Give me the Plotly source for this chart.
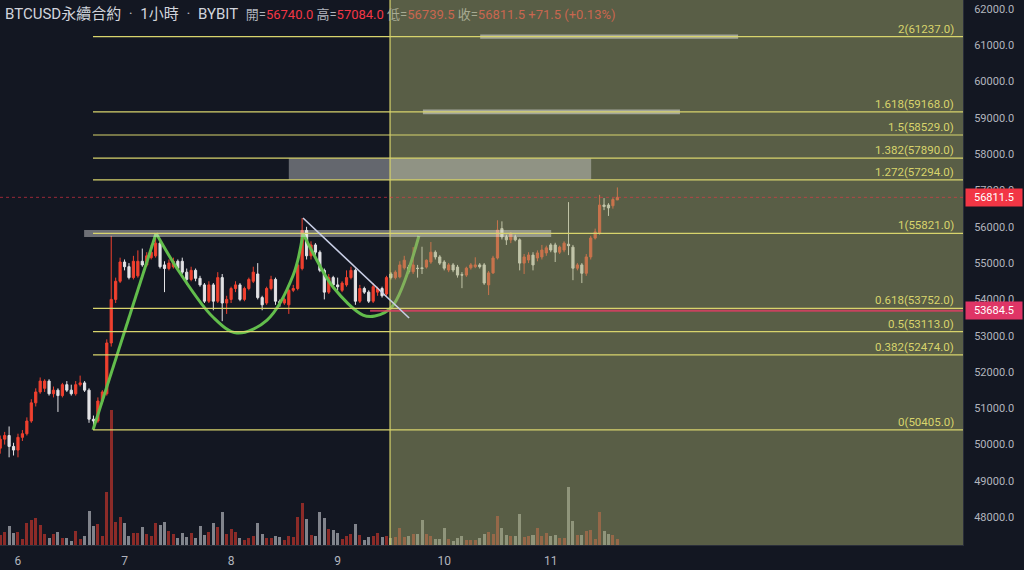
import pandas as pd
import plotly.graph_objects as go

# ---------------- data ----------------
start_time = "2021-10-05 20:00"   # first hourly candle

open_ = [49900, 50150, 50250, 49950, 49850, 50200, 50300, 50650, 51150, 51450,
         51550, 51750, 51400, 51500, 51350, 51650, 51500, 51400, 51650, 51700,
         51500, 50700, 50650, 51200, 51400, 52800, 54000, 54500, 55030, 54900,
         54600, 54650, 55050, 54950, 55150, 55200, 55550, 54950, 54850, 54900,
         55050, 55050, 54750, 54550, 54800, 54580, 54400, 53950, 54400, 53950,
         54600, 53900, 54000, 54300, 54400, 54000, 54300, 54500, 54700, 54050,
         53900, 54300, 54550, 53950, 53900, 53850, 54250, 54300, 54850, 55900,
         55200, 55500, 55300, 54800, 54200, 54600, 54400, 54250, 54400, 54600,
         54800, 53950, 54300, 54200, 53950, 54200, 54300, 54150, 54700, 54600,
         54620, 54870, 54890, 54760, 54860, 54870, 54890, 55030, 55300, 55170,
         55030, 54810, 54950, 54890, 54680, 54670, 54870, 54900, 54950, 54950,
         54400, 54730, 55140, 55950, 55720, 55640, 55720, 55640, 55000, 55085,
         55220, 55140, 55170, 55280, 55500, 55500, 55300, 55360, 55520, 55440,
         54860, 54950, 54720, 55170, 55690, 55830, 56600, 56600, 56580, 56740]
high_ = [50250, 50350, 50500, 50050, 50300, 50400, 50750, 51250, 51550, 51850,
         51800, 51800, 51600, 51550, 51700, 51750, 51650, 51750, 51900, 51750,
         51550, 50800, 51300, 51500, 52900, 55750, 54600, 55150, 55100, 55000,
         55200, 55350, 55400, 55300, 55500, 55821, 55600, 55050, 55100, 55150,
         55100, 55150, 54850, 54900, 54850, 54650, 54450, 54500, 54450, 54750,
         54700, 54100, 54350, 54500, 54450, 54350, 54600, 54900, 55000, 54100,
         54350, 54650, 54600, 54000, 54050, 54300, 54400, 55000, 56240, 56000,
         55600, 55550, 55350, 54850, 54700, 54650, 54600, 54500, 54800, 54900,
         54850, 54400, 54350, 54250, 54450, 54350, 54350, 54650, 54750, 54800,
         55050, 55200, 54950, 55440, 54950, 55450, 55100, 55580, 55350, 55220,
         55080, 55000, 55000, 54950, 54750, 54900, 55000, 55160, 55000, 55000,
         54780, 55200, 56180, 56150, 55780, 55850, 55780, 55680, 55250, 55300,
         55300, 55350, 55500, 55480, 55550, 55560, 55480, 55600, 56680, 55500,
         55000, 55000, 55250, 55750, 55950, 56880, 56790, 56650, 56800, 57084]
low_ = [49750, 50000, 49650, 49700, 49650, 50100, 50250, 50600, 51050, 51400,
        51450, 51350, 51300, 50900, 51300, 51450, 51350, 51350, 51600, 51450,
        50600, 50405, 50600, 51150, 51350, 52700, 53900, 54450, 54800, 54550,
        54550, 54600, 54900, 54900, 55100, 55150, 54850, 54200, 54800, 54850,
        54800, 54700, 54400, 54500, 54500, 54350, 53900, 53900, 53700, 53900,
        53400, 53600, 53900, 54200, 53950, 53950, 54250, 54450, 54000, 53700,
        53850, 54250, 53850, 53800, 53850, 53600, 54200, 54250, 54800, 55100,
        55100, 55200, 54750, 54000, 54150, 54350, 54250, 54200, 54350, 54550,
        53850, 53900, 54150, 53900, 53900, 54100, 54050, 54100, 54550, 54550,
        54580, 54820, 54700, 54700, 54600, 54700, 54850, 54980, 55100, 54950,
        54800, 54750, 54750, 54600, 54310, 54620, 54820, 54860, 54850, 54400,
        54120, 54700, 55100, 55650, 55500, 55550, 55600, 54800, 54700, 55000,
        54800, 55050, 55100, 55200, 55300, 55030, 55250, 55300, 55220, 54530,
        54800, 54450, 54650, 55100, 55650, 55780, 56460, 56300, 56500, 56739.5]
close_ = [50150, 50250, 49950, 49850, 50200, 50300, 50650, 51150, 51450, 51750,
          51750, 51400, 51500, 51350, 51650, 51500, 51400, 51650, 51700, 51500,
          50700, 50650, 51200, 51450, 52800, 54000, 54500, 55030, 54900, 54600,
          55050, 55050, 54950, 55200, 55300, 55550, 54900, 54850, 55000, 55050,
          54850, 54750, 54550, 54800, 54580, 54400, 53950, 54400, 53950, 54600,
          53900, 54000, 54300, 54400, 54000, 54300, 54550, 54750, 54050, 53850,
          54300, 54550, 53950, 53900, 54000, 54250, 54300, 54950, 55900, 55200,
          55500, 55300, 54800, 54200, 54600, 54400, 54350, 54450, 54600, 54800,
          53950, 54300, 54200, 53950, 54350, 54300, 54100, 54600, 54600, 54750,
          54950, 55080, 54760, 54950, 54850, 54850, 55080, 55300, 55170, 55000,
          54860, 54950, 54810, 54670, 54670, 54860, 54950, 54950, 54900, 54450,
          54730, 55140, 55910, 55720, 55640, 55820, 55640, 55000, 55170, 55222,
          54950, 55280, 55360, 55420, 55360, 55300, 55440, 55550, 55480, 54860,
          54950, 54720, 55170, 55690, 55860, 56600, 56560, 56520, 56750, 56811.5]
volume = [10, 13, 19, 12, 13, 6, 22, 25, 27, 20,
          11, 7, 11, 13, 7, 7, 4, 14, 6, 9,
          34, 19, 21, 9, 53, 135, 23, 28, 22, 9,
          12, 12, 18, 11, 9, 22, 20, 23, 14, 11,
          7, 12, 8, 12, 7, 19, 10, 13, 22, 18,
          33, 11, 16, 13, 7, 5, 7, 9, 22, 11,
          7, 7, 9, 8, 5, 9, 8, 28, 42, 26,
          10, 9, 33, 27, 16, 15, 12, 6, 9, 11,
          21, 10, 5, 8, 9, 12, 8, 9, 7, 8,
          17, 8, 9, 11, 11, 25, 11, 9, 6, 6,
          17, 6, 4, 7, 9, 5, 5, 5, 7, 11,
          13, 11, 29, 17, 10, 9, 9, 31, 8, 9,
          10, 17, 9, 12, 9, 10, 7, 7, 58, 24,
          10, 10, 14, 15, 6, 33, 14, 11, 10, 6]

fib_ratios = ["0", "0.382", "0.5", "0.618", "1", "1.272", "1.382", "1.5", "1.618", "2"]
fib_prices = [50405.0, 52474.0, 53113.0, 53752.0, 55821.0, 57294.0, 57890.0, 58529.0, 59168.0, 61237.0]

day_ticks = ["2021-10-06", "2021-10-07", "2021-10-08", "2021-10-09", "2021-10-10", "2021-10-11"]
day_labels = ["6", "7", "8", "9", "10", "11"]
price_ticks = [48000, 49000, 50000, 51000, 52000, 53000, 54000, 55000,
               56000, 57000, 58000, 59000, 60000, 61000, 62000]

# drawing-tool anchors: hours after start_time, price
fib_start_h = 20.9
range_start_h = 87.8
view_h = [-0.05, 216.85]
price_view = [47234, 62248]
rise_h = [20.9, 35.1]
rise_p = [50405, 55821]
cup1_h = [35.1, 40.5, 47.9, 53.3, 60.1, 66.0, 68.2]
cup1_p = [55821, 54727, 53515, 53074, 53432, 54672, 55821]
cup2_h = [68.2, 70.45, 74.96, 81.7, 84.4, 88.2, 94.3]
cup2_p = [55821, 55278, 54341, 53570, 53542, 53790, 55746]
trend_h = [68.2, 92.1]
trend_p = [56242, 53487]
zone_h0 = [108.1, 95.2, 65.0, 18.9]
zone_h1 = [166.2, 153.1, 133.1, 124.1]
zone_p0 = [61180, 59100, 57294, 55719]
zone_p1 = [61300, 59230, 57890, 55912]
zone_alpha = [0.5, 0.5, 0.38, 0.42]
support_price = 53684.5
support_start_h = 83.3
last_price = 56811.5

# ---------------- styling ----------------
BG = "#131722"
RED = "#f0402f"
WHITE = "#e3e3e6"
YEL = "#d8d46c"
GREEN = "#62bd4c"
AXIS_TXT = "#b2b5be"

t0 = pd.Timestamp(start_time)
def t(h):
    return t0 + pd.Timedelta(hours=h)

times = [t(i) for i in range(len(close_))]
up = [c >= o for o, c in zip(open_, close_)]
vol_colors = ["rgba(240,60,46,0.55)" if u else "rgba(220,222,228,0.55)" for u in up]

fig = go.Figure()
fig.add_trace(go.Bar(x=times, y=volume, marker_color=vol_colors, marker_line_width=0,
                     width=0.68 * 3600000, yaxis="y", hoverinfo="skip", showlegend=False))
fig.add_trace(go.Candlestick(x=times, open=open_, high=high_, low=low_, close=close_,
                             increasing=dict(line=dict(color=RED, width=1), fillcolor=RED),
                             decreasing=dict(line=dict(color=WHITE, width=1), fillcolor=WHITE),
                             whiskerwidth=0, yaxis="y2", hoverinfo="skip", showlegend=False))
fig.add_trace(go.Scatter(x=[t(h) for h in rise_h], y=rise_p, mode="lines", yaxis="y2",
                         line=dict(color=GREEN, width=3), hoverinfo="skip", showlegend=False))
for hs, ps in ((cup1_h, cup1_p), (cup2_h, cup2_p)):
    fig.add_trace(go.Scatter(x=[t(h) for h in hs], y=ps, mode="lines", yaxis="y2",
                             line=dict(color=GREEN, width=3, shape="spline", smoothing=1.0),
                             hoverinfo="skip", showlegend=False))

shapes = []
# shaded date range (drawn above the candles, semi-transparent)
shapes.append(dict(type="rect", xref="x", yref="paper", x0=t(range_start_h), x1=t(view_h[1] + 2),
                   y0=0, y1=1, fillcolor="rgba(160,165,105,0.5)", line=dict(width=0), layer="above"))
# zones
for h0, h1, p0, p1, a in zip(zone_h0, zone_h1, zone_p0, zone_p1, zone_alpha):
    shapes.append(dict(type="rect", xref="x", yref="y2", x0=t(h0), x1=t(h1), y0=p0, y1=p1,
                       fillcolor=f"rgba(235,235,235,{a})", line=dict(width=0), layer="above"))
# vertical line
shapes.append(dict(type="line", xref="x", yref="paper", x0=t(range_start_h), x1=t(range_start_h),
                   y0=0, y1=1, line=dict(color=YEL, width=1.2), layer="above"))
# fib levels
for p in fib_prices:
    shapes.append(dict(type="line", xref="x", yref="y2", x0=t(fib_start_h), x1=t(view_h[1] + 2),
                       y0=p, y1=p, line=dict(color=YEL, width=1.2), layer="above"))
# last price dotted
shapes.append(dict(type="line", xref="paper", yref="y2", x0=0, x1=1, y0=last_price, y1=last_price,
                   line=dict(color="rgba(242,54,69,0.6)", width=1, dash="dot"), layer="above"))
# support ray
shapes.append(dict(type="line", xref="x", yref="y2", x0=t(support_start_h), x1=t(view_h[1] + 2),
                   y0=support_price, y1=support_price,
                   line=dict(color="rgba(226,60,100,0.8)", width=2), layer="above"))
# trend line
shapes.append(dict(type="line", xref="x", yref="y2", x0=t(trend_h[0]), x1=t(trend_h[1]),
                   y0=trend_p[0], y1=trend_p[1], line=dict(color="#c9cfe6", width=1.6), layer="above"))

annotations = []
for r_, p in zip(fib_ratios, fib_prices):
    annotations.append(dict(xref="paper", yref="y2", x=1, y=p, xanchor="right", yanchor="bottom",
                            xshift=-7, yshift=-1, showarrow=False, text=f"{r_}({p:.1f})",
                            font=dict(color=YEL, size=11.5, family="Roboto, DejaVu Sans")))
annotations.append(dict(xref="paper", yref="y2", x=1, y=last_price, xanchor="left", yanchor="middle",
                        xshift=2, showarrow=False, text=f"{last_price:.1f}", bgcolor="#f23645",
                        borderpad=2, width=52, font=dict(color="white", size=11, family="Roboto")))
annotations.append(dict(xref="paper", yref="y2", x=1, y=support_price, xanchor="left", yanchor="middle",
                        xshift=2, showarrow=False, text=f"{support_price:.1f}", bgcolor="#df3566",
                        borderpad=2, width=52, font=dict(color="white", size=11, family="Roboto")))
r = "#f23645"
g = "#b2b5be"
rm = "#c8664f"
gm = "#a7aa92"
sep = "\u2002·\u2002"
title = (f'<span style="color:#d1d4dc">BTCUSD永續合約</span><span style="color:{g}">{sep}</span>'
         f'<span style="color:#d1d4dc">1小時</span><span style="color:{g}">{sep}</span>'
         f'<span style="color:#d1d4dc">BYBIT</span>\u2002'
         f'<span style="font-size:13px"><span style="color:{g}">開=</span><span style="color:{r}">56740.0</span> '
         f'<span style="color:{g}">高=</span><span style="color:{r}">57084.0</span> '
         f'<span style="color:{gm}">低=</span><span style="color:{rm}">56739.5</span> '
         f'<span style="color:{gm}">收=</span><span style="color:{rm}">56811.5 +71.5 (+0.13%)</span></span>')
annotations.append(dict(xref="paper", yref="paper", x=0, y=1, xanchor="left", yanchor="top",
                        xshift=3, yshift=-3, showarrow=False, text=title,
                        font=dict(size=15, family="Roboto, Noto Sans CJK TC", color="#d1d4dc")))

fig.update_layout(
    width=1024, height=570,
    margin=dict(l=0, r=61, t=0, b=25),
    paper_bgcolor=BG, plot_bgcolor=BG,
    shapes=shapes, annotations=annotations,
    showlegend=False, bargap=0,
    xaxis=dict(type="date", range=[t(view_h[0]), t(view_h[1])], showgrid=False, zeroline=False,
               rangeslider=dict(visible=False), tickvals=day_ticks, ticktext=day_labels,
               ticks="outside", ticklen=5, tickcolor=BG,
               tickfont=dict(color=AXIS_TXT, size=12, family="Roboto"),
               showline=True, linecolor="#2a2e39", linewidth=1),
    yaxis=dict(range=[0, 545], visible=False, fixedrange=True),
    yaxis2=dict(overlaying="y", side="right", range=price_view, tickvals=price_ticks,
                tickformat=".1f", showgrid=False, zeroline=False, ticks="outside", ticklen=8,
                tickcolor=BG, tickfont=dict(color=AXIS_TXT, size=11, family="Roboto"),
                showline=True, linecolor="#2a2e39", linewidth=1),
)

fig.write_html("out.html", config={"displayModeBar": False},
               post_script="document.body.style.margin='0';document.body.style.overflow='hidden';")
